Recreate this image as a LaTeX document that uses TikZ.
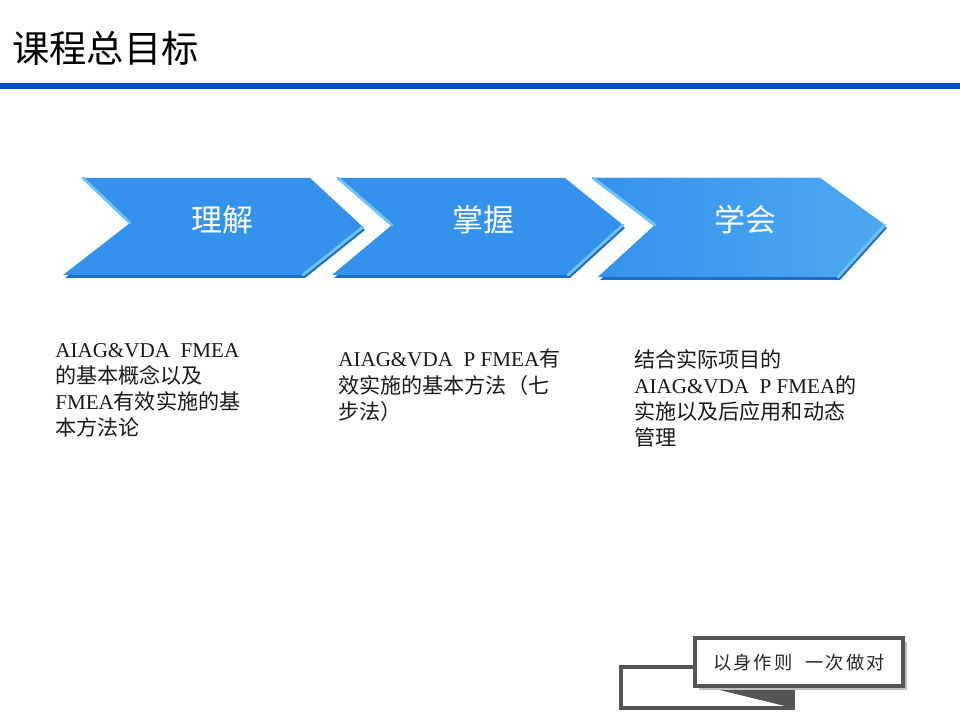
\documentclass[tikz,border=0pt]{standalone}
\usepackage{fontspec}
\setmainfont{Liberation Serif}
\newfontfamily\cjk{Noto Sans CJK SC}
\newfontfamily\cjkwide[LetterSpace=12]{Noto Sans CJK SC}
\usepackage{xcolor}
\definecolor{barblue}{RGB}{0,80,200}
\definecolor{chevblue}{RGB}{52,146,236}
\definecolor{chevlight}{RGB}{110,196,250}
\definecolor{chevdark}{RGB}{30,110,200}
\definecolor{boxgray}{RGB}{85,85,85}
\usetikzlibrary{positioning}

\tikzset{
  chev/.style={fill=chevblue, draw=none},
  chevedge/.style={draw=chevlight, line width=2pt, line cap=round},
  chevlabel/.style={text=white, font=\cjk\fontsize{22}{24}\selectfont},
  goal/.style={anchor=north west, align=left, text=black!90, inner sep=0pt,
    font=\fontsize{15}{18.5}\selectfont}
}

\begin{document}
\begin{tikzpicture}[x=0.025cm, y=-0.025cm]
\useasboundingbox (0,0) rectangle (960,720);
\fill[white] (0,0) rectangle (960,720);

% title and bar
\node[anchor=west, inner sep=0pt, font=\cjk\fontsize{26.5}{28}\selectfont] (title) at (12,48) {课程总目标};
\fill[barblue] (0,83) rectangle (960,89);

% chevrons
\fill[chevdark] (85,181) -- (312,181) -- (365,230) -- (305,278) -- (65,278) -- (132,226) -- cycle;
\draw[chev] (83,178) -- (310,178) -- (363,227) -- (303,275) -- (63,275) -- (130,223) -- cycle;
\draw[chevedge] (83,178) -- (130,223);
\draw[chevedge] (363,227) -- (303,275);

\fill[chevdark] (340,181) -- (567,181) -- (625,228) -- (570,278) -- (334,278) -- (394,228) -- cycle;
\draw[chev] (338,178) -- (565,178) -- (623,225) -- (568,275) -- (332,275) -- (392,225) -- cycle;
\draw[chevedge] (338,178) -- (392,225);
\draw[chevedge] (623,225) -- (568,275);

\fill[chevdark] (595,181) -- (822,181) -- (887,228) -- (840,280) -- (600,280) -- (657,228) -- cycle;
\draw[chev, left color=chevblue, right color=chevlight!45!chevblue] (593,178) -- (820,178) -- (885,225) -- (838,277) -- (598,277) -- (655,225) -- cycle;
\draw[chevedge] (593,178) -- (655,225);
\draw[chevedge] (885,225) -- (838,277);

\node[chevlabel] (understand) at (222,220) {理解};
\node[chevlabel] (master) at (483,220) {掌握};
\node[chevlabel] (learn) at (745,220) {学会};

% goals
\node[goal] (goalA) at (55,343) {AIAG\&VDA\ \ FMEA\\{\cjk 的基本概念以及}\\FMEA{\cjk 有效实施的基}\\{\cjk 本方法论}};
\node[goal] (goalB) at (338,349) {AIAG\&VDA\ \ P FMEA{\cjk 有}\\{\cjk 效实施的基本方法（七}\\{\cjk 步法）}};
\node[goal] (goalC) at (634,349) {{\cjk 结合实际项目的}\\AIAG\&VDA\ \ P FMEA{\cjk 的}\\{\cjk 实施以及后应用和动态}\\{\cjk 管理}};

% motto box
\draw[boxgray, line width=2.2pt] (621,667) rectangle (793,708);
\fill[boxgray] (695,684) -- (793,684) -- (793,708) -- cycle;
\fill[black!25] (699,642) rectangle (907,690);
\draw[boxgray, fill=white, line width=2.8pt] (695,638) rectangle (903,686);
\node[text=black!85, font=\cjkwide\fontsize{13}{15}\selectfont] (motto) at (799,663) {以身作则\ \ 一次做对};
\end{tikzpicture}
\end{document}
